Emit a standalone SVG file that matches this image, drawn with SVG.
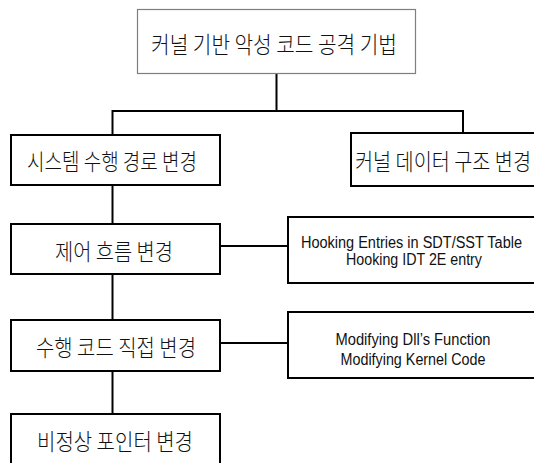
<svg xmlns="http://www.w3.org/2000/svg" width="534" height="463" viewBox="0 0 534 463">
<style>
.box{fill:#fff;stroke:#000;stroke-width:2}
.open{fill:#fff;stroke:#000;stroke-width:2}
.top{fill:#fff;stroke:#7f7f7f;stroke-width:1.2}
.ko{font-family:"Noto Sans CJK KR","Noto Sans",sans-serif;font-weight:300;font-size:23px;fill:#111;dominant-baseline:central;text-anchor:start}
.en{font-family:"Liberation Sans Narrow","Liberation Sans",sans-serif;font-size:16px;fill:#111;text-anchor:start}
.ln{fill:none;stroke:#000;stroke-width:2}
</style>
<rect width="534" height="463" fill="#fff"/>
<g id="connectors">
<path class="ln" d="M276.5 74V111M112.5 111H463M112.5 110V135M463 110V133M112.5 185V224M112.5 274V320M112.5 371V414M220 246H288M220 343H288"/>
</g>
<g id="n0">
<rect class="top" x="137.5" y="9.5" width="278" height="64"/>
<text class="ko" x="151" y="43" textLength="246" lengthAdjust="spacingAndGlyphs">커널 기반 악성 코드 공격 기법</text>
</g>
<g id="n1">
<rect class="box" x="11" y="135" width="209" height="50"/>
<text class="ko" x="27" y="160" textLength="170" lengthAdjust="spacingAndGlyphs">시스템 수행 경로 변경</text>
</g>
<g id="n2">
<path class="open" d="M534 133H351V186H534"/>
<text class="ko" x="355" y="160" textLength="176" lengthAdjust="spacingAndGlyphs">커널 데이터 구조 변경</text>
</g>
<g id="n3">
<rect class="box" x="11" y="224" width="209" height="50"/>
<text class="ko" x="55" y="250" textLength="118" lengthAdjust="spacingAndGlyphs">제어 흐름 변경</text>
</g>
<g id="n4">
<path class="open" d="M534 217H288V283H534"/>
<text class="en" x="301" y="247.5" textLength="221" lengthAdjust="spacingAndGlyphs">Hooking Entries in SDT/SST Table</text>
<text class="en" x="346" y="265" textLength="136" lengthAdjust="spacingAndGlyphs">Hooking IDT 2E entry</text>
</g>
<g id="n5">
<rect class="box" x="11" y="320" width="209" height="51"/>
<text class="ko" x="36" y="345.5" textLength="160" lengthAdjust="spacingAndGlyphs">수행 코드 직접 변경</text>
</g>
<g id="n6">
<path class="open" d="M534 312H288V378H534"/>
<text class="en" x="335.5" y="345" textLength="155" lengthAdjust="spacingAndGlyphs">Modifying Dll’s Function</text>
<text class="en" x="340.5" y="365" textLength="145" lengthAdjust="spacingAndGlyphs">Modifying Kernel Code</text>
</g>
<g id="n7">
<path class="open" d="M11 463V414H220V463"/>
<text class="ko" x="37" y="440" textLength="156" lengthAdjust="spacingAndGlyphs">비정상 포인터 변경</text>
</g>
</svg>
